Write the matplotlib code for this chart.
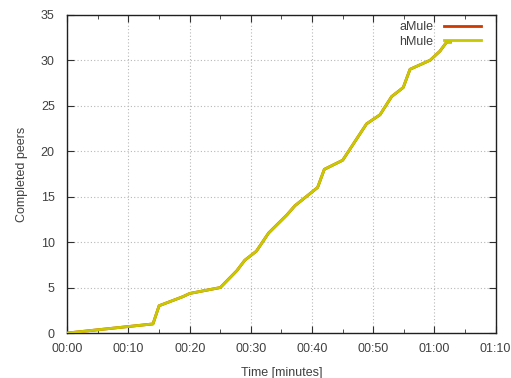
import matplotlib
matplotlib.use("Agg")
import matplotlib.pyplot as plt
from matplotlib.ticker import MultipleLocator, FuncFormatter

time_min = [0, 14.0, 15.0, 18.9, 20.0, 25.0, 27.7, 29.0, 30.9, 32.9, 35.9, 37.2,
            40.9, 42.0, 45.0, 48.9, 51.1, 53.0, 54.9, 56.0, 59.3, 60.9, 62.0, 62.6]
amule_peers = [0, 1, 3, 4, 4.35, 5, 6.85, 8, 9, 11, 13, 14,
               16, 18, 19, 23, 24, 26, 27, 29, 30, 31, 32, 32]
hmule_peers = [0, 1, 3, 4, 4.35, 5, 6.85, 8, 9, 11, 13, 14,
               16, 18, 19, 23, 24, 26, 27, 29, 30, 31, 32, 32]
series_names = ["aMule", "hMule"]
x_ticks = [0, 10, 20, 30, 40, 50, 60, 70]
y_ticks = [0, 5, 10, 15, 20, 25, 30, 35]

txt = "#404040"
plt.rcParams["font.family"] = ["Liberation Sans", "DejaVu Sans"]
plt.rcParams["font.size"] = 9

fig = plt.figure(figsize=(5.11, 3.78), dpi=100)
ax = fig.add_axes([0.1317, 0.119, 0.8383, 0.842])

ax.plot(time_min, amule_peers, color="#cc3a00", lw=2.0, label=series_names[0], zorder=3)
ax.plot(time_min, hmule_peers, color="#c8c800", lw=2.0, label=series_names[1], zorder=4)

ax.set_xlim(0, 70)
ax.set_ylim(0, 35)
ax.set_xticks(x_ticks)
ax.xaxis.set_minor_locator(MultipleLocator(5))
ax.set_yticks(y_ticks)
ax.xaxis.set_major_formatter(FuncFormatter(lambda v, p: "%02d:%02d" % (int(v) // 60, int(v) % 60)))

ax.grid(True, which="major", linestyle=(0, (1, 2)), color="#b8b8b8", lw=0.8)
ax.tick_params(which="both", direction="in", top=True, right=True, colors="#303030",
               labelcolor=txt)
ax.tick_params(axis="x", pad=7.5)
ax.tick_params(axis="y", pad=9)
ax.tick_params(which="major", length=5)
ax.tick_params(which="minor", length=3)
for s in ax.spines.values():
    s.set_color("#202020")
    s.set_linewidth(1.0)

ax.set_xlabel("Time [minutes]", color=txt, labelpad=8)
ax.set_ylabel("Completed peers", color=txt, labelpad=9)

leg = ax.legend(loc="upper right", bbox_to_anchor=(0.966, 0.98), frameon=False,
                markerfirst=False, handlelength=3.0, borderpad=0, borderaxespad=0,
                labelspacing=0.2, handletextpad=0.8)
for t in leg.get_texts():
    t.set_color(txt)

fig.savefig("out.png", dpi=100)
